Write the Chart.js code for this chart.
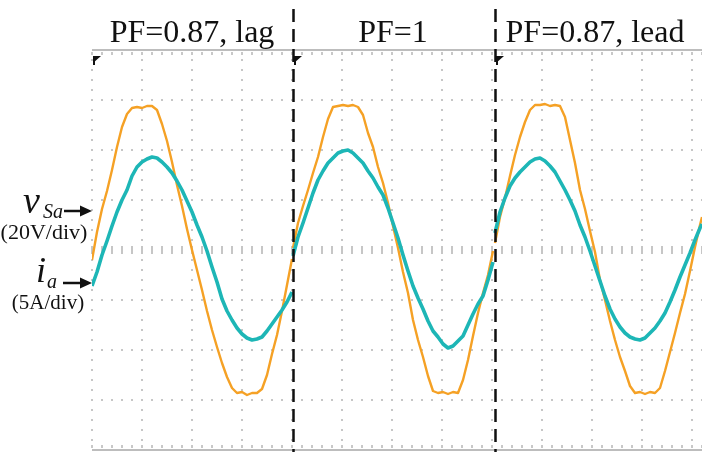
<!DOCTYPE html>
<html><head><meta charset="utf-8">
<script src="https://cdn.jsdelivr.net/npm/chart.js@4.4.0/dist/chart.umd.min.js"></script>
<style>html,body{margin:0;padding:0;background:#fff;}#wrap{width:702px;height:452px;}</style>
</head><body><div id="wrap"><canvas id="c" width="702" height="452"></canvas></div>
<script>
// time in ms (5 ms/div), voltage in V (20 V/div), current in A (5 A/div)
const panelTitles = ['PF=0.87, lag', 'PF=1', 'PF=0.87, lead'];
const panelStarts = [0, 20.1, 40.3];

const tLag = [0,0.5,1,1.5,2,2.5,3,3.5,4,4.5,5,5.5,6,6.5,7,7.5,8,8.5,9,9.5,10,10.5,11,11.5,12,12.5,13,13.5,14,14.5,15,15.5,16,16.5,17,17.5,18,18.5,19,19.5,20];
const vLag = [-4.0,7.2,16.4,23.6,32.0,41.2,49.2,54.4,56.8,57.2,56.8,57.6,57.6,56.0,50.4,43.6,35.2,26.0,17.6,8.4,0,-8.0,-16.0,-24.4,-32.0,-38.8,-45.2,-50.8,-55.2,-57.2,-56.8,-58.0,-57.2,-57.2,-55.6,-50.0,-41.6,-34.0,-24.4,-14.0,-3.6];
const iLag = [-3.6,-2.2,-0.5,0.9,2.4,3.8,5.0,6.0,7.4,8.3,8.8,9.1,9.3,9.2,8.8,8.3,7.7,6.9,6.0,4.9,3.8,2.5,1.3,-0.1,-1.7,-3.2,-4.9,-6.1,-7.0,-7.8,-8.4,-8.8,-9.0,-8.9,-8.7,-8.1,-7.4,-6.7,-6.0,-5.2,-4.2];

const tUnity = [20.1,20.6,21.1,21.6,22.1,22.6,23.1,23.6,24.1,24.6,25.1,25.6,26.1,26.6,27.1,27.6,28.1,28.6,29.1,29.6,30.1,30.6,31.1,31.6,32.1,32.6,33.1,33.6,34.1,34.6,35.1,35.6,36.1,36.6,37.1,37.6,38.1,38.6,39.1,39.6,40.1];
const vUnity = [0.8,10.8,17.6,24.0,30.8,37.2,45.2,52.4,57.2,57.6,58.0,57.6,58.0,57.2,54.0,46.8,41.2,33.2,26.8,18.8,9.6,0.8,-8.8,-17.2,-28.0,-36.0,-42.8,-50.4,-56.4,-57.2,-56.8,-57.6,-56.8,-57.2,-52.0,-44.0,-34.4,-25.2,-17.2,-10.0,-0.4];
const iUnity = [-0.6,1.3,2.7,4.2,5.7,7.0,7.9,8.7,9.2,9.7,9.9,10.0,9.7,9.2,8.7,7.9,7.2,6.3,5.5,4.2,2.7,1.2,-0.5,-2.1,-3.6,-4.8,-5.9,-7.1,-8.1,-8.7,-9.4,-9.8,-9.6,-9.1,-8.6,-7.5,-6.4,-5.4,-4.6,-3.0,-1.2];

const tLead = [40.3,40.8,41.3,41.8,42.3,42.8,43.3,43.8,44.3,44.8,45.3,45.8,46.3,46.8,47.3,47.8,48.3,48.8,49.3,49.8,50.3,50.8,51.3,51.8,52.3,52.8,53.3,53.8,54.3,54.8,55.3,55.8,56.3,56.8,57.3,57.8,58.3,58.8,59.3,59.8,60.3,60.8,61.0];
const vLead = [2.8,13.2,20.8,29.6,38.0,45.2,51.2,56.0,58.0,58.0,58.4,57.6,58.0,57.6,53.2,44.0,34.8,24.0,16.4,7.6,-0.8,-12.0,-20.0,-28.4,-36.0,-42.8,-48.4,-54.4,-57.2,-56.8,-57.6,-56.8,-57.2,-55.2,-48.4,-40.8,-33.2,-25.2,-17.6,-8.4,1.2,10.0,13.2];
const iLead = [1.7,3.8,5.2,6.4,7.2,7.8,8.3,8.8,9.1,9.2,8.9,8.4,7.8,6.9,6.0,5.0,3.9,2.5,1.3,-0.1,-1.6,-3.1,-4.6,-5.9,-6.9,-7.7,-8.3,-8.7,-8.9,-9.0,-8.8,-8.3,-7.8,-7.1,-6.3,-5.2,-4.0,-2.7,-1.5,-0.3,1.0,2.2,2.6];

const ORANGE = '#F5A125';
const TEAL = '#1DB6B6';

function pts(t, v) { return t.map((x, k) => ({ x: x, y: v[k] })); }
function volt(t, v) { return { data: pts(t, v), borderColor: ORANGE, borderWidth: 2.4, pointRadius: 0, tension: 0, yAxisID: 'y', fill: false, borderJoinStyle: 'round' }; }
function amp(t, v) { return { data: pts(t, v), borderColor: TEAL, borderWidth: 3.6, pointRadius: 0, tension: 0, yAxisID: 'y2', fill: false, borderJoinStyle: 'round' }; }

const gridPlugin = {
  id: 'scopeGrid',
  beforeDatasetsDraw(chart) {
    const ctx = chart.ctx, xs = chart.scales.x, ys = chart.scales.y;
    const ca = chart.chartArea;
    ctx.save();
    ctx.fillStyle = '#c6c6c6';
    for (let t = 0; t <= 60; t += 5) {
      const px = Math.round(xs.getPixelForValue(t));
      for (let v = -76; v <= 76; v += 4) {
        const py = Math.round(ys.getPixelForValue(v));
        ctx.fillRect(px - 1, py - 1, 2, 2);
      }
    }
    for (let v = -60; v <= 60; v += 20) {
      const py = Math.round(ys.getPixelForValue(v));
      for (let t = 0; t <= 61; t += 1) {
        const px = Math.round(xs.getPixelForValue(t));
        if (v === 0) ctx.fillRect(px - 1, py - 4, 2, 8);
        else ctx.fillRect(px - 1, py - 1, 2, 2);
      }
    }
    ctx.fillStyle = '#bdbdbd';
    ctx.fillRect(ca.left, ca.top - 1, ca.right - ca.left, 2);
    ctx.fillRect(ca.left, ca.bottom - 1, ca.right - ca.left, 2);
    ctx.fillStyle = '#c8c8c8';
    for (let t = 0; t <= 61; t += 1) {
      const px = Math.round(xs.getPixelForValue(t));
      ctx.fillRect(px - 1, ca.top + 2, 2, 3);
      ctx.fillRect(px - 1, ca.bottom - 5, 2, 3);
    }
    ctx.restore();
  },
  afterDatasetsDraw(chart) {
    const ctx = chart.ctx, xs = chart.scales.x;
    const ca = chart.chartArea;
    ctx.save();
    ctx.strokeStyle = '#111';
    ctx.lineWidth = 2.5;
    ctx.setLineDash([13, 7]);
    panelStarts.slice(1).forEach(t => {
      const px = Math.round(xs.getPixelForValue(t)) + 0.5;
      ctx.beginPath(); ctx.moveTo(px, 9); ctx.lineTo(px, 452); ctx.stroke();
    });
    ctx.setLineDash([]);
    ctx.fillStyle = '#111';
    panelStarts.forEach(t => {
      const px = Math.round(xs.getPixelForValue(t)) + 1;
      const py = ca.top + 6;
      ctx.beginPath(); ctx.moveTo(px, py); ctx.lineTo(px + 8, py); ctx.lineTo(px, py + 7); ctx.closePath(); ctx.fill();
      ctx.fillRect(px, py, 2, 9);
    });
    ctx.font = '32px "Liberation Serif", "Times New Roman", serif';
    ctx.textAlign = 'center';
    ctx.textBaseline = 'alphabetic';
    panelTitles.forEach((s, k) => {
      const px = xs.getPixelForValue(panelStarts[k] + 10);
      ctx.fillText(s, px, 42);
    });
    const left = ca.left;
    function arrow(x1, x2, y) {
      ctx.lineWidth = 2.5;
      ctx.beginPath(); ctx.moveTo(x1, y); ctx.lineTo(x2 - 8, y); ctx.stroke();
      ctx.beginPath(); ctx.moveTo(x2, y); ctx.lineTo(x2 - 12, y - 5.5); ctx.lineTo(x2 - 12, y + 5.5); ctx.closePath(); ctx.fill();
    }
    ctx.strokeStyle = '#111';
    ctx.textAlign = 'left';
    ctx.font = 'italic 38px "Liberation Serif", serif';
    ctx.fillText('v', 23, 213);
    ctx.font = 'italic 20px "Liberation Serif", serif';
    ctx.fillText('Sa', 43, 218);
    arrow(64, left, 211);
    ctx.font = '22px "Liberation Serif", serif';
    ctx.textAlign = 'center';
    ctx.fillText('(20V/div)', 44, 239);
    ctx.textAlign = 'left';
    ctx.font = 'italic 36px "Liberation Serif", serif';
    ctx.fillText('i', 36, 282);
    ctx.font = 'italic 20px "Liberation Serif", serif';
    ctx.fillText('a', 47, 288);
    arrow(63, left, 283);
    ctx.font = '21px "Liberation Serif", serif';
    ctx.textAlign = 'center';
    ctx.fillText('(5A/div)', 48, 309);
    ctx.restore();
  }
};

new Chart(document.getElementById('c'), {
  type: 'line',
  data: {
    datasets: [
      amp(tLag, iLag), amp(tUnity, iUnity), amp(tLead, iLead),
      volt(tLag, vLag), volt(tUnity, vUnity), volt(tLead, vLead)
    ]
  },
  options: {
    responsive: false,
    animation: false,
    devicePixelRatio: 1,
    layout: { padding: { left: 92, top: 50, right: 0, bottom: 2 } },
    plugins: { legend: { display: false }, tooltip: { enabled: false } },
    scales: {
      x: { type: 'linear', min: 0, max: 61, display: false },
      y: { min: -80, max: 80, display: false },
      y2: { min: -20, max: 20, display: false, position: 'right' }
    }
  },
  plugins: [gridPlugin]
});
</script>
</body></html>
